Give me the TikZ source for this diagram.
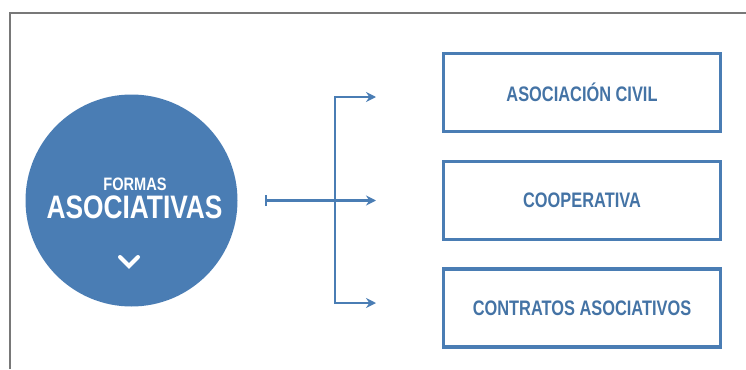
\documentclass[tikz,border=0pt]{standalone}
\usepackage{fontspec}
\usepackage{xcolor}
\usetikzlibrary{arrows.meta}

\newfontfamily\condfont[FakeStretch=0.81]{Liberation Sans}
\newfontfamily\boxfont[FakeStretch=0.78]{Liberation Sans}
\definecolor{asocblue}{RGB}{74,125,180}
\definecolor{framegray}{RGB}{120,120,120}

\begin{document}
\begin{tikzpicture}[x=1pt, y=-1pt,
    circ/.style={circle, fill=asocblue, minimum size=212pt, inner sep=0pt},
    title/.style={text=white, inner sep=0pt, anchor=base},
    formbox/.style={draw=asocblue, line width=3.5pt, minimum width=277pt,
        minimum height=78pt, inner sep=0pt, text=asocblue!92!black,
        font=\boxfont\bfseries\fontsize{21}{24}\selectfont},
    link/.style={draw=asocblue, line width=2.4pt, -{Stealth[length=10pt,width=10pt]}}]
\useasboundingbox (0,0) rectangle (746,369);

% frame (only top and left sides visible)
\draw[framegray, line width=1.5pt] (10,369) -- (10,13) -- (746,13);

% the circle
\node[circ] (formas) at (131.5,200.5) {};
\node[title, font=\condfont\bfseries\fontsize{18}{20}\selectfont] (titleA) at (135,190) {FORMAS};
\node[title, font=\condfont\bfseries\fontsize{32.5}{36}\selectfont] (titleB) at (134.5,218.5) {ASOCIATIVAS};
\coordinate (chev) at (129,262);
\draw[white, line width=4pt, line cap=round, line join=miter]
    ([shift={(-9,-5)}]chev) -- ([shift={(0,4)}]chev) -- ([shift={(9,-5)}]chev);

% the three boxes
\node[formbox] (civil) at (582,92.5) {ASOCIACIÓN CIVIL};
\node[formbox] (coop) at (582,200.5) {COOPERATIVA};
\node[formbox] (contr) at (582,308) {CONTRATOS ASOCIATIVOS};

% connectors
\coordinate (start) at (265,200.5);
\coordinate (split) at (335,200.5);
\coordinate (a1) at (376,97);
\coordinate (a2) at (376,200.5);
\coordinate (a3) at (376,303);

\draw[link, {Bar[width=11pt]}-{Stealth[length=10pt,width=10pt]}] (start) -- (a2);
\draw[link] (split) |- (a1);
\draw[link] (split) |- (a3);
\end{tikzpicture}
\end{document}
